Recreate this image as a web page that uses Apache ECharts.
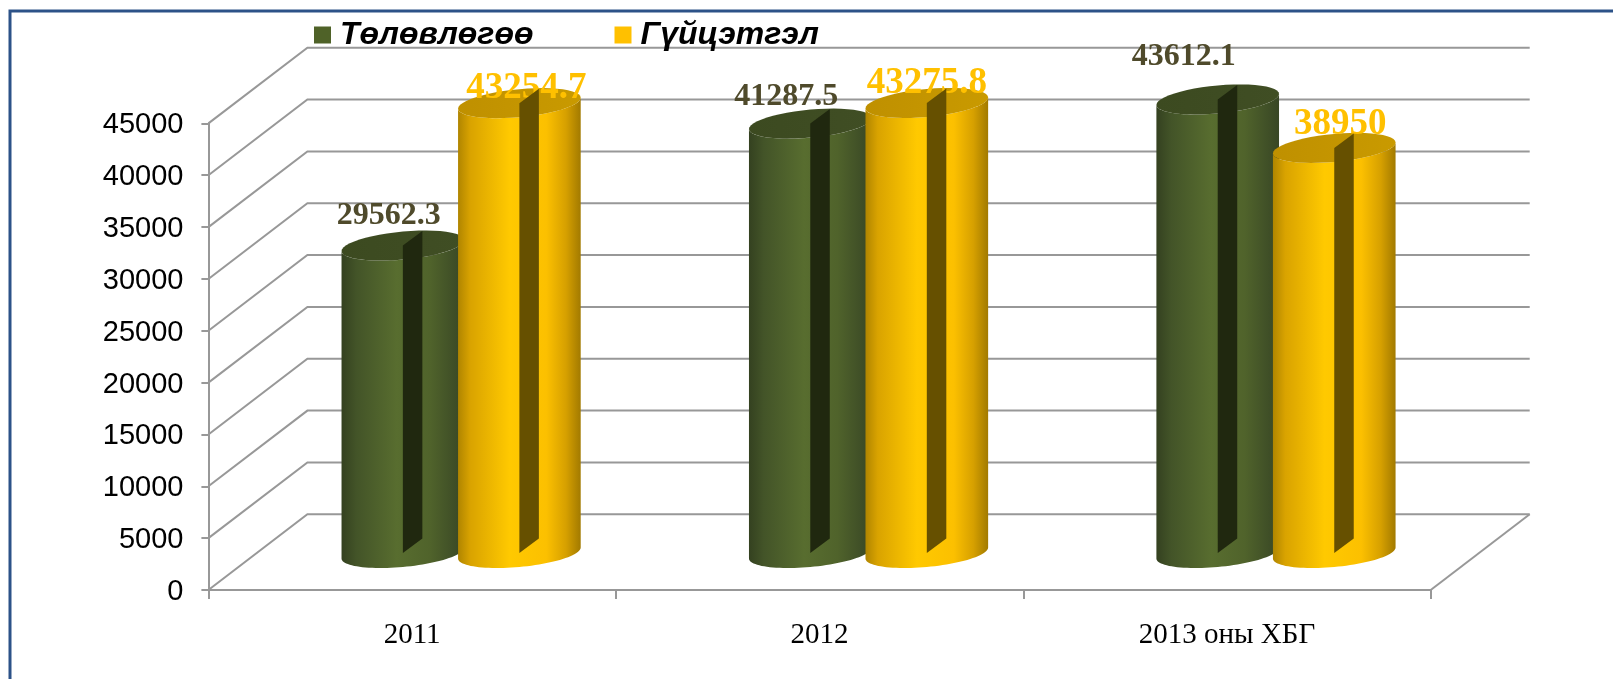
<!DOCTYPE html>
<html>
<head>
<meta charset="utf-8">
<style>html,body{margin:0;padding:0;background:#fff}#c{width:1613px;height:679px}</style>
<script src="https://cdn.jsdelivr.net/npm/echarts@6/dist/echarts.min.js"></script>
</head>
<body>
<div id="c"></div>
<script>
const categories = ['2011', '2012', '2013 оны ХБГ'];
const planValues = [29562.3, 41287.5, 43612.1];
const actualValues = [43254.7, 43275.8, 38950];
const yTicks = [0, 5000, 10000, 15000, 20000, 25000, 30000, 35000, 40000, 45000];
const planName = 'Төлөвлөгөө';
const actualName = 'Гүйцэтгэл';
// label nudges relative to each cylinder top (px)
const planLabelShift = [[-14, -30], [-24, -27], [-34, -43]];
const actualLabelShift = [[7, -15], [0, -19], [6, -23]];

// oblique projection of the 3-D box
const DEPTH_X = 99, DEPTH_Y = 75.7;
const MID_X = 49, MID_Y = 37, HEIGHT_K = 1.003;
const RADIUS = 0.1505, OFFSET = 0.143, RY = 14, SHEAR = 5.5;
const STRIPE_X = 19.5, STRIPE_Y = 14.5;
const GRIDC = '#989898';

function grad(stops) {
  return {type: 'linear', x: 0, y: 0, x2: 1, y2: 0,
    colorStops: stops.map(s => ({offset: s[0], color: s[1]}))};
}
const planStyle = {
  body: grad([[0, '#344120'], [0.12, '#435428'], [0.45, '#586d2f'], [0.72, '#50632b'], [1, '#384625']]),
  top: grad([[0, '#3c4a20'], [1, '#404e24']]),
  stripe: '#20280f', label: '#4f4a2b', font: 'bold 32px "Liberation Serif"'
};
const actualStyle = {
  body: grad([[0, '#b08500'], [0.1, '#d9a300'], [0.42, '#ffc900'], [0.72, '#fcc000'], [0.88, '#d6a000'], [1, '#a27a00']]),
  top: grad([[0, '#bf9000'], [1, '#c99a00']]),
  stripe: '#665000', label: '#ffc000', font: 'bold 37px "Liberation Serif"'
};

function ellipsePts(cx, cy, rx, from, to) {
  const pts = [];
  const N = 48;
  for (let i = 0; i <= N; i++) {
    const t = from + (to - from) * i / N;
    pts.push([cx + rx * Math.cos(t), cy + RY * Math.sin(t) - SHEAR * Math.cos(t)]);
  }
  return pts;
}

function cylinderRenderer(dir, style, shifts) {
  return function (params, api) {
    const i = api.value(0), v = api.value(1);
    const band = api.size([1, 0])[0];
    const base = api.coord([i, 0]);
    const top = api.coord([i, v]);
    const cx = base[0] + MID_X + dir * OFFSET * band;
    const yb = base[1] - MID_Y;
    const yt = yb - (base[1] - top[1]) * HEIGHT_K;
    const rx = RADIUS * band;
    const bodyPts = ellipsePts(cx, yb, rx, Math.PI, 0).concat(ellipsePts(cx, yt, rx, 0, Math.PI));
    const s = shifts[i];
    return {
      type: 'group',
      children: [
        {type: 'polygon', shape: {points: bodyPts}, style: {fill: style.body}},
        {type: 'polygon', shape: {points: ellipsePts(cx, yt, rx, 0, Math.PI * 2)}, style: {fill: style.top}},
        {type: 'text', style: {x: cx + s[0], y: yt + s[1], text: String(v), fill: style.label,
          font: style.font, textAlign: 'center', textVerticalAlign: 'middle'}},
        {type: 'polygon', shape: {points: [[cx, yt], [cx + STRIPE_X, yt - STRIPE_Y],
          [cx + STRIPE_X, yb - STRIPE_Y], [cx, yb]]}, style: {fill: style.stripe}}
      ]
    };
  };
}

function wallRenderer(params, api) {
  const v = api.value(1);
  const band = api.size([1, 0])[0];
  const p = api.coord([0, v]);
  const x0 = p[0] - band / 2, x1 = x0 + categories.length * band;
  const children = [{type: 'polyline',
    shape: {points: [[x0, p[1]], [x0 + DEPTH_X, p[1] - DEPTH_Y], [x1 + DEPTH_X, p[1] - DEPTH_Y]]},
    style: {fill: 'none', stroke: GRIDC, lineWidth: 2}}];
  if (v === 0) {
    children.push({type: 'line', shape: {x1: x1, y1: p[1], x2: x1 + DEPTH_X, y2: p[1] - DEPTH_Y},
      style: {stroke: GRIDC, lineWidth: 2}});
  }
  return {type: 'group', children};
}

const chart = echarts.init(document.getElementById('c'));
chart.setOption({
  animation: false,
  backgroundColor: '#ffffff',
  grid: {left: 208.4, right: 182.3, top: 123.4, bottom: 89},
  legend: {
    data: [planName, actualName], left: 314, top: 19, padding: 0, icon: 'rect',
    itemWidth: 17, itemHeight: 17, itemGap: 81, selectedMode: false,
    textStyle: {fontFamily: '"Liberation Sans"', fontWeight: 'bold', fontStyle: 'italic', fontSize: 32, color: '#000', padding: [0, 0, 0, 4]}
  },
  xAxis: {
    type: 'category', data: categories,
    axisLine: {show: true, lineStyle: {color: GRIDC, width: 2}},
    axisTick: {show: true, interval: 0, alignWithLabel: false, length: 9, lineStyle: {color: GRIDC, width: 2}},
    axisLabel: {fontFamily: '"Liberation Serif"', fontSize: 29, color: '#000', margin: 31}
  },
  yAxis: {
    type: 'value', min: 0, max: 45000, interval: 5000,
    splitLine: {show: false},
    axisLine: {show: true, lineStyle: {color: GRIDC, width: 2}},
    axisTick: {show: true, length: 7, lineStyle: {color: GRIDC, width: 2}},
    axisLabel: {margin: 25, formatter: v => '{a|' + v + '}',
      rich: {a: {fontFamily: '"Liberation Sans"', fontSize: 29, color: '#000', padding: [4, 0, 0, 0]}}}
  },
  graphic: [
    {type: 'polyline', silent: true, z: 0,
      shape: {points: [[10, 679], [10, 11], [1613, 11]]},
      style: {fill: 'none', stroke: '#2c5288', lineWidth: 3}}
  ],
  series: [
    {type: 'custom', name: 'wall', silent: true, clip: false, z: 1, encode: {x: 0, y: 1},
      data: yTicks.map(v => [0, v]), renderItem: wallRenderer},
    {type: 'custom', name: planName, clip: false, z: 2, encode: {x: 0, y: 1},
      itemStyle: {color: '#4f6228'},
      data: planValues.map((v, i) => [i, v]), renderItem: cylinderRenderer(-1, planStyle, planLabelShift)},
    {type: 'custom', name: actualName, clip: false, z: 3, encode: {x: 0, y: 1},
      itemStyle: {color: '#ffc000'},
      data: actualValues.map((v, i) => [i, v]), renderItem: cylinderRenderer(1, actualStyle, actualLabelShift)}
  ]
});
</script>
</body>
</html>
